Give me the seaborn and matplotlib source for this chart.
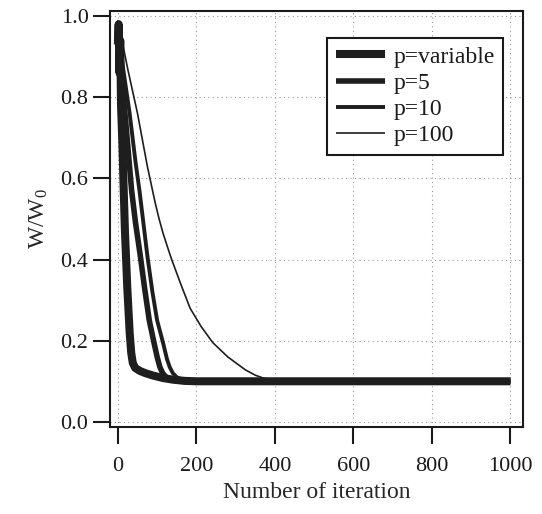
import numpy as np
import pandas as pd
import matplotlib
matplotlib.use('Agg')
import matplotlib.pyplot as plt
import seaborn as sns

sns.set_theme(style='ticks')
plt.rcParams.update({
    'font.family': ['Liberation Serif', 'DejaVu Serif'],
    'mathtext.fontset': 'custom',
    'mathtext.rm': 'Liberation Serif',
    'mathtext.it': 'Liberation Serif',
    'axes.linewidth': 1.5,
    'axes.edgecolor': '#1a1a1a',
    'xtick.color': '#1a1a1a',
    'ytick.color': '#1a1a1a',
    'text.color': '#1a1a1a',
})

# ── data ────────────────────────────────────────────────────────────────────
iter_var = [0, 2, 4, 6, 8, 11, 14, 18, 24, 30, 34, 38, 44, 55, 70, 90, 115,
            140, 170, 200, 1000]
w_var    = [0.93, 0.98, 0.86, 0.94, 0.78, 0.70, 0.60, 0.47, 0.33, 0.22, 0.17,
            0.145, 0.133, 0.126, 0.12, 0.114, 0.108, 0.104, 0.101, 0.10, 0.10]

iter_p5 = [0, 10, 20, 35, 45, 57, 68, 80, 92, 100, 107, 114, 122, 132, 145,
           165, 1000]
w_p5    = [0.95, 0.84, 0.74, 0.57, 0.49, 0.41, 0.33, 0.25, 0.195, 0.16, 0.135,
           0.12, 0.111, 0.105, 0.102, 0.10, 0.10]

iter_p10 = [0, 15, 30, 45, 55, 65, 75, 88, 100, 115, 125, 132, 140, 150, 162,
            180, 200, 1000]
w_p10    = [0.97, 0.86, 0.76, 0.64, 0.57, 0.49, 0.41, 0.32, 0.25, 0.195, 0.155,
            0.135, 0.12, 0.11, 0.104, 0.101, 0.10, 0.10]

iter_p100 = [0, 25, 50, 75, 95, 105, 115, 125, 137, 160, 184, 212, 242, 280,
             325, 350, 370, 395, 420, 450, 1000]
w_p100    = [0.99, 0.87, 0.76, 0.63, 0.54, 0.50, 0.465, 0.435, 0.40, 0.34, 0.28,
             0.235, 0.195, 0.16, 0.128, 0.115, 0.108, 0.103, 0.10, 0.10, 0.10]

LABELS = ['p=variable', 'p=5', 'p=10', 'p=100']
WIDTHS = [5.8, 4.0, 2.8, 1.2]
XTICKS = [0, 200, 400, 600, 800, 1000]
YTICKS = [0.0, 0.2, 0.4, 0.6, 0.8, 1.0]

frames = []
for lab, xs, ys in zip(LABELS, [iter_var, iter_p5, iter_p10, iter_p100],
                       [w_var, w_p5, w_p10, w_p100]):
    frames.append(pd.DataFrame({'iteration': xs, 'w': ys, 'case': lab}))
df = pd.concat(frames, ignore_index=True)

# ── plot ─────────────────────────────────────────────────────────────────────
fig = plt.figure(figsize=(5.42, 5.14), dpi=100)
ax = fig.add_axes([0.203, 0.169, 0.762, 0.810])

for lab, lw in zip(LABELS, WIDTHS):
    sns.lineplot(data=df[df['case'] == lab], x='iteration', y='w', ax=ax,
                 color='#1e1e1e', linewidth=lw, label=lab, sort=False,
                 solid_joinstyle='round', solid_capstyle='butt')

ax.set_xlim(-20, 1032)
ax.set_ylim(-0.013, 1.013)
ax.set_xticks(XTICKS)
ax.set_yticks(YTICKS)
ax.set_yticklabels([f'{v:.1f}' for v in YTICKS])
ax.tick_params(direction='out', length=12.5, width=1.5, labelsize=16)
ax.tick_params(axis='x', pad=9)
ax.tick_params(axis='y', pad=3)
ax.grid(True, linestyle=(0, (1, 3)), color='#9a9a9a', linewidth=0.8)
for s in ax.spines.values():
    s.set_visible(True)

ax.set_xlabel('Number of iteration', fontsize=17, labelpad=4)
ax.set_ylabel('W/W$_0$', fontsize=17, labelpad=8)

leg = ax.legend(loc='upper right', bbox_to_anchor=(0.952, 0.935), borderaxespad=0,
                fontsize=17, frameon=True, fancybox=False, framealpha=1,
                handlelength=2.1, handletextpad=0.35, labelspacing=0.2,
                borderpad=0.35)
leg.get_frame().set_edgecolor('#1a1a1a')
leg.get_frame().set_linewidth(1.5)

fig.savefig('out.png', dpi=100)
